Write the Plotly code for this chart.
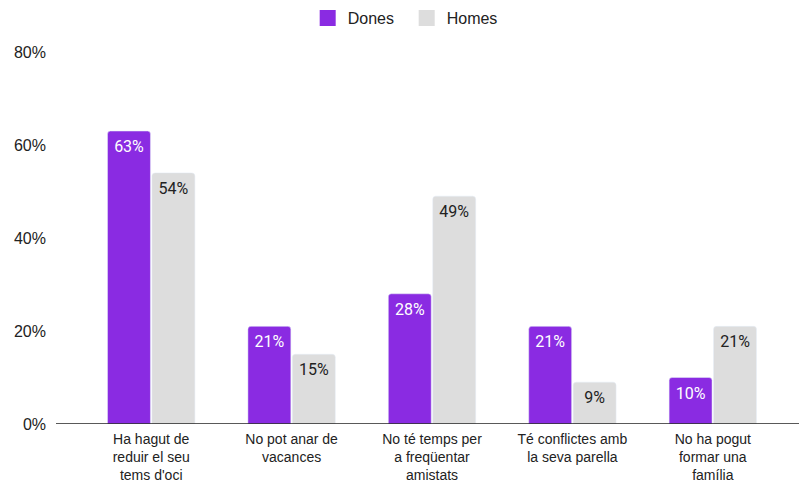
import plotly.graph_objects as go

categories = [
    "Ha hagut de<br>reduir el seu<br>tems d'oci",
    "No pot anar de<br>vacances",
    "No té temps per<br>a freqüentar<br>amistats",
    "Té conflictes amb<br>la seva parella",
    "No ha pogut<br>formar una<br>família",
]
dones = [63, 21, 28, 21, 10]
homes = [54, 15, 49, 9, 21]
y_ticks = [0, 20, 40, 60, 80]
y_tick_labels = ["0%", "20%", "40%", "60%", "80%"]

PURPLE = "#8A2BE2"
GRAY = "#DDDDDD"
BARGAP = 0.367

fig = go.Figure()
series = [("Dones", dones, PURPLE, "white"), ("Homes", homes, GRAY, "#222222")]
for name, vals, col, tcol in series:
    fig.add_trace(go.Bar(
        name=name, x=categories, y=vals, marker_color=col,
        offsetgroup=name, showlegend=False, hoverinfo="skip",
    ))
for name, vals, col, tcol in series:
    fig.add_trace(go.Scatter(
        name=name, x=categories, y=vals, mode="markers+text",
        offsetgroup=name, showlegend=False, hoverinfo="skip",
        marker=dict(size=13, opacity=0, color=col),
        text=[f"{v}%" for v in vals], textposition="bottom center",
        textfont=dict(family="Roboto", size=16, color=tcol),
    ))
# legend entries
for name, vals, col, tcol in series:
    fig.add_trace(go.Scatter(
        name=name, x=[None], y=[None], mode="markers",
        marker=dict(symbol="square", size=17, color=col),
        showlegend=True,
    ))

fig.update_layout(
    width=799, height=484,
    margin=dict(l=81, r=16, t=52, b=60, autoexpand=False),
    paper_bgcolor="white", plot_bgcolor="white",
    barmode="group", bargap=BARGAP, bargroupgap=0.034,
    barcornerradius=3,
    scattermode="group", scattergap=BARGAP,
    font=dict(family="Liberation Sans, Arial, sans-serif", size=16, color="#222222"),
    legend=dict(orientation="h", xref="container", yref="container",
                x=0.509, xanchor="center", y=1 - 18 / 484, yanchor="middle",
                font=dict(size=16, color="#222222"), itemwidth=30,
                entrywidth=54, entrywidthmode="pixels"),
    showlegend=True,
)
fig.update_xaxes(
    showgrid=False, showline=False, zeroline=False, ticks="", automargin=False,
    ticklabelstandoff=5,
    tickfont=dict(family="Liberation Sans, Arial, sans-serif", size=14, color="#222222"),
    fixedrange=True,
)
fig.update_yaxes(
    range=[0, 80], tickvals=y_ticks, ticktext=y_tick_labels, automargin=False,
    showgrid=False, showline=False, zeroline=False, ticks="",
    ticklabelstandoff=34, fixedrange=True,
    tickfont=dict(family="Liberation Sans, Arial, sans-serif", size=16, color="#222222"),
)
fig.add_shape(type="line", xref="paper", yref="y",
              x0=-25/702, x1=718/702, y0=0, y1=0,
              line=dict(color="#222222", width=1.5))

fig.write_html("out.html", config={"displayModeBar": False},
               post_script="document.body.style.margin='0';document.body.style.overflow='hidden';")
